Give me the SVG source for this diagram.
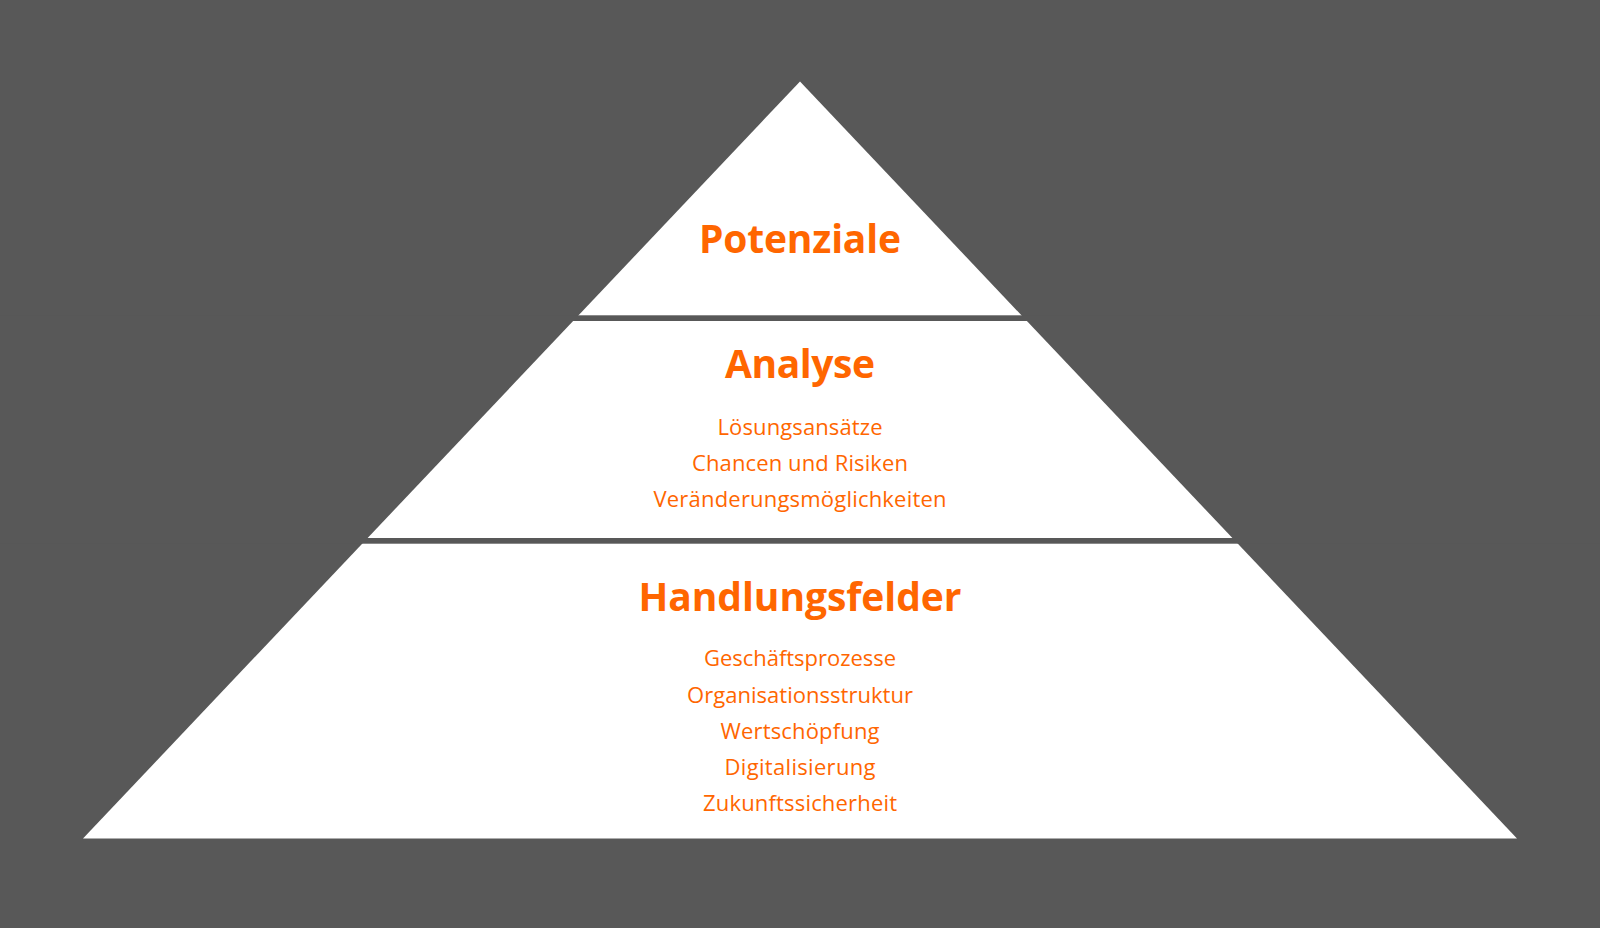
<svg xmlns="http://www.w3.org/2000/svg" width="1600" height="928" viewBox="0 0 1600 928">
<style>
.bg{fill:#585858}
.pyr{fill:#ffffff}
.band{fill:#585858}
.title{font-family:"Open Sans","Liberation Sans",sans-serif;font-weight:700;font-size:39px;fill:#ff6600;text-anchor:middle}
.item{font-family:"Open Sans","Liberation Sans",sans-serif;font-weight:400;font-size:22px;fill:#ff6600;text-anchor:middle}
</style>
<rect class="bg" x="0" y="0" width="1600" height="928"/>
<polygon class="pyr" points="800,81.5 1517,838.5 83,838.5"/>
<g id="connectors">
<rect class="band" x="0" y="315.3" width="1600" height="5.7"/>
<rect class="band" x="0" y="538" width="1600" height="5.7"/>
</g>
<g id="node-potenziale">
<text class="title" x="800" y="253.3" textLength="202">Potenziale</text>
</g>
<g id="node-analyse">
<text class="title" x="800" y="378.3" textLength="150">Analyse</text>
<text class="item" x="800" y="435" textLength="165">Lösungsansätze</text>
<text class="item" x="800" y="471" textLength="216">Chancen und Risiken</text>
<text class="item" x="800" y="507.3" textLength="293">Veränderungsmöglichkeiten</text>
</g>
<g id="node-handlungsfelder">
<text class="title" x="800" y="610.7" textLength="323">Handlungsfelder</text>
<text class="item" x="800" y="666" textLength="192">Geschäftsprozesse</text>
<text class="item" x="800" y="702.5" textLength="226">Organisationsstruktur</text>
<text class="item" x="800" y="738.6" textLength="159">Wertschöpfung</text>
<text class="item" x="800" y="774.7" textLength="151">Digitalisierung</text>
<text class="item" x="800" y="810.7" textLength="194">Zukunftssicherheit</text>
</g>
</svg>
